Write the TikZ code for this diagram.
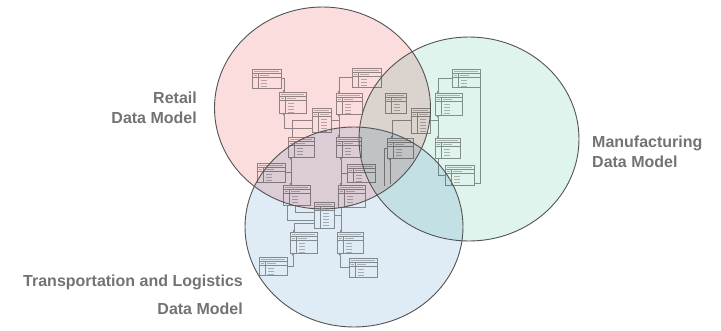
\documentclass[tikz,border=0pt]{standalone}
\usepackage{fontspec}
\setmainfont{Liberation Sans}
\usetikzlibrary{calc,arrows.meta}
\definecolor{redfill}{HTML}{FBDDDE}
\definecolor{greenfill}{HTML}{DFF4ED}
\definecolor{bluefill}{HTML}{DFECF6}
\definecolor{ringcol}{HTML}{535353}
\definecolor{tabline}{HTML}{959595}
\definecolor{tabtext}{HTML}{BBBBBB}
\definecolor{labelgray}{HTML}{737373}
\begin{document}
\begin{tikzpicture}[x=1pt,y=-1pt,
  erd/.style={draw=tabline, line width=0.4pt, rectangle, inner sep=0pt, anchor=north west,
    path picture={
      \coordinate (nw) at (path picture bounding box.north west);
      \coordinate (ne) at (path picture bounding box.north east);
      \coordinate (sw) at (path picture bounding box.south west);
      \draw[tabline, line width=0.35pt] ([yshift=-4pt]nw) -- ([yshift=-4pt]ne);
      \draw[tabline, line width=0.35pt] ([yshift=-8pt]nw) -- ([yshift=-8pt]ne);
      \draw[tabline, line width=0.35pt] ([xshift=6pt,yshift=-4pt]nw) -- ([xshift=6pt]sw);
      \draw[tabtext, line width=0.9pt] ([xshift=2pt,yshift=-2pt]nw) -- ([xshift=-2pt,yshift=-2pt]ne);
      \draw[tabtext, line width=0.8pt] ([xshift=1.5pt,yshift=-6pt]nw) -- ([xshift=4.5pt,yshift=-6pt]nw);
      \draw[tabtext, line width=0.8pt] ([xshift=8pt,yshift=-6pt]nw) -- ([xshift=17pt,yshift=-6pt]nw);
      \foreach \k in {11,14,17,20,23,26}
        \draw[tabtext, line width=0.7pt] ([xshift=9pt,yshift=-\k pt]nw) -- ([xshift=15pt,yshift=-\k pt]nw);
    }},
  conn/.style={draw=tabline, line width=0.45pt},
  dotend/.style={-{Circle[length=2.4pt]}},
  dotstart/.style={{Circle[length=2.4pt]}-},
  dotboth/.style={{Circle[length=2.4pt]}-{Circle[length=2.4pt]}},
  ring/.style={draw=ringcol, line width=0.9pt},
  label/.style={text=labelgray, font=\fontsize{16}{20}\selectfont\bfseries, inner sep=0pt}
]
\fill[white] (0,0) rectangle (721,330);
\useasboundingbox (0,0) rectangle (721,330);

% tables
\node[erd, minimum width=29pt, minimum height=19pt] (T1) at (252,69) {};
\node[erd, minimum width=27pt, minimum height=21pt] (T2) at (279,92) {};
\node[erd, minimum width=29pt, minimum height=19pt] (T3) at (352,68) {};
\node[erd, minimum width=26pt, minimum height=21pt] (T4) at (336,93) {};
\node[erd, minimum width=19pt, minimum height=24pt] (T5) at (312,108) {};
\node[erd, minimum width=21pt, minimum height=20pt] (T6) at (385,93) {};
\node[erd, minimum width=19pt, minimum height=25pt] (T7) at (411,108) {};
\node[erd, minimum width=28pt, minimum height=18pt] (T8) at (452,69) {};
\node[erd, minimum width=27pt, minimum height=22pt] (T9) at (435,93) {};
\node[erd, minimum width=25pt, minimum height=20pt] (T10) at (435,138) {};
\node[erd, minimum width=26pt, minimum height=20pt] (T11) at (288,137) {};
\node[erd, minimum width=25pt, minimum height=20pt] (T12) at (336,137) {};
\node[erd, minimum width=26pt, minimum height=20pt] (T13) at (387,138) {};
\node[erd, minimum width=28pt, minimum height=19pt] (T14) at (257,163) {};
\node[erd, minimum width=28pt, minimum height=18pt] (T15) at (347,164) {};
\node[erd, minimum width=29pt, minimum height=20pt] (T16) at (445,165) {};
\node[erd, minimum width=27pt, minimum height=20pt] (T17) at (283,185) {};
\node[erd, minimum width=27pt, minimum height=22pt] (T18) at (338,185) {};
\node[erd, minimum width=20pt, minimum height=26pt] (T19) at (314,202) {};
\node[erd, minimum width=27pt, minimum height=21pt] (T20) at (290,232) {};
\node[erd, minimum width=26pt, minimum height=21pt] (T21) at (337,232) {};
\node[erd, minimum width=28pt, minimum height=18pt] (T22) at (259,257) {};
\node[erd, minimum width=28pt, minimum height=19pt] (T23) at (349,258) {};

% connectors
\draw[conn, dotend] (T1.east) -| ([xshift=5pt]T2.north west);
\draw[conn, dotend] (T3.west) -| ([xshift=3pt]T4.north west);
\draw[conn, dotstart] ([xshift=5pt]T2.south west) |- ([yshift=4pt]T5.south west);
\draw[conn] ([xshift=4pt]T11.north west) |- ([yshift=-12pt]T5.north west);
\draw[conn, dotboth] ([xshift=3pt]T4.south west) -- ([xshift=3pt]T12.north west);
\draw[conn] (T5.east) -- ($(T5.east -| T4.south west)+(3pt,0)$);
\draw[conn, dotend] (T8.west) -| ([xshift=3pt]T9.north west);
\draw[conn, dotboth] ([xshift=3pt]T9.south west) -- ([xshift=3pt]T10.north west);
\draw[conn] (T7.east) -- ($(T7.east -| T9.south west)+(3pt,0)$);
\draw[conn] (T8.south east) |- ([yshift=2pt]T16.south east);
\draw[conn] ([xshift=3pt]T10.south west) |- (T16.west);
\draw[conn, dotend] (T7.west) -| ([xshift=5pt]T13.north west);
\coordinate (e13a) at (390,184);
\coordinate (e13b) at (384,186);
\draw[conn, dotstart] ([xshift=3pt]T13.south west) -- (e13a);
\draw[conn] (T13.west) -| (e13b);
\draw[conn, dotboth] ([xshift=3pt]T11.south west) -- ([xshift=8pt]T17.north west);
\draw[conn] (T14.east) -- ($(T14.east -| T11.south west)+(3pt,0)$);
\draw[conn, dotboth] ([xshift=5pt]T12.south west) -- ([xshift=3pt]T18.north west);
\draw[conn] (T15.west) -- ($(T15.west -| T18.north west)+(3pt,0)$);
\draw[conn] ([xshift=4pt]T17.south west) |- ([yshift=8pt]T19.south west);
\draw[conn] ([xshift=12pt]T17.south west) |- ([yshift=-10pt]T19.north west);
\draw[conn, dotend] ([xshift=3pt]T18.south west) -- ([xshift=4pt]T21.north west);
\draw[conn] (T19.east) -- ($(T19.east -| T18.south west)+(3pt,0)$);
\draw[conn, dotstart] ([xshift=4pt]T20.north west) |- ([yshift=5pt]T19.south west);
\draw[conn, dotstart] ([xshift=3pt]T20.south west) |- (T22.east);
\draw[conn, dotstart] ([xshift=3pt]T21.south west) |- (T23.west);

% circles
\fill[redfill, blend mode=multiply] (322.5,108) ellipse [x radius=108, y radius=101];
\fill[greenfill, blend mode=multiply] (469,139) ellipse [x radius=110, y radius=102];
\fill[bluefill, blend mode=multiply] (354,227) ellipse [x radius=109, y radius=100];
\draw[ring] (322.5,108) ellipse [x radius=108, y radius=101];
\draw[ring] (469,139) ellipse [x radius=110, y radius=102];
\draw[ring] (354,227) ellipse [x radius=109, y radius=100];

% labels
\node[label, anchor=east, align=right] (lretail) at (197,108) {Retail\\Data Model};
\node[label, anchor=west, align=left] (lmanu) at (592,152) {Manufacturing\\Data Model};
\node[label, anchor=east, align=right, font=\fontsize{16}{28}\selectfont\bfseries] (ltrans) at (243,295) {Transportation and Logistics\\Data Model};
\end{tikzpicture}
\end{document}
